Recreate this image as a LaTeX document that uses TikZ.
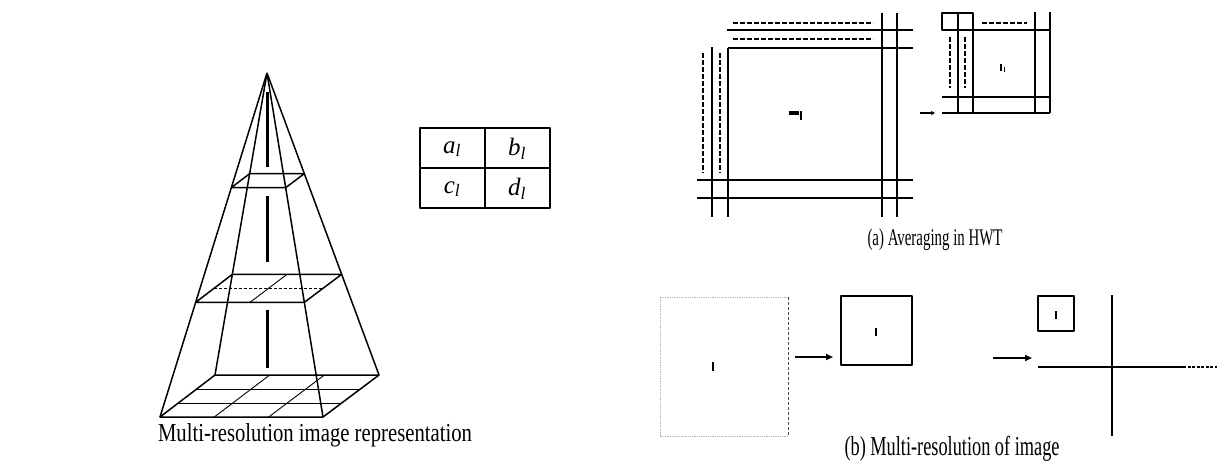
\documentclass[tikz,border=0pt]{standalone}
\usepackage{fontspec}
\setmainfont{Liberation Serif}
\usetikzlibrary{calc,arrows.meta}
\begin{document}
\begin{tikzpicture}[x=1pt,y=-1pt,line join=round,
  edge/.style={line width=1.5pt},
  gridln/.style={line width=0.9pt},
  axisln/.style={line width=3pt},
  imgln/.style={line width=1.5pt},
  dashln/.style={line width=1.4pt,dash pattern=on 5pt off 2pt},
  boxln/.style={line width=2.2pt},
  arr/.style={line width=2pt,-{Triangle[length=7pt,width=6pt]}},
  capnode/.style={inner sep=0pt,anchor=center},
  cell/.style={inner sep=0pt,font=\fontsize{25}{27}\selectfont\itshape}]
\useasboundingbox (0,0) rectangle (1220,475);
\fill[white] (0,0) rectangle (1220,475);

% ---------- pyramid ----------
\coordinate (A) at (267,73);
\coordinate (FL) at (160,417);
\coordinate (FR) at (323,417);
\coordinate (BR) at (379,375);
\coordinate (BL) at (215,375);
\foreach \n/\t in {1/0.3333,2/0.6667}{
  \coordinate (FL\n) at ($(A)!\t!(FL)$);
  \coordinate (FR\n) at ($(A)!\t!(FR)$);
  \coordinate (BR\n) at ($(A)!\t!(BR)$);
  \coordinate (BL\n) at ($(A)!\t!(BL)$);
}
% central axis
\draw[axisln] (267,92) -- (267,167);
\draw[axisln] (267,196) -- (267,262);
\draw[axisln] (267,310) -- (267,368);
% edges
\draw[edge] (A) -- (FL);
\draw[edge] (A) -- (FR);
\draw[edge] (A) -- (BR);
\draw[edge] (A) -- (BL);
% slices
\draw[edge] (FL1) -- (FR1) -- (BR1) -- (BL1) -- cycle;
\draw[edge] (FL2) -- (FR2) -- (BR2) -- (BL2) -- cycle;
\draw[edge] (FL) -- (FR) -- (BR) -- (BL) -- cycle;
% grids
\draw[gridln] ($(FL2)!0.5!(FR2)$) -- ($(BL2)!0.5!(BR2)$);
\draw[gridln,densely dashed] ($(FL2)!0.5!(BL2)$) -- ($(FR2)!0.5!(BR2)$);
\foreach \k in {0.3333,0.6667}{
  \draw[gridln] ($(FL)!\k!(FR)$) -- ($(BL)!\k!(BR)$);
  \draw[gridln] ($(FL)!\k!(BL)$) -- ($(FR)!\k!(BR)$);
}
\node[capnode] (pcap) at (315,435) {\scalebox{1}[1.25]{\resizebox{314pt}{!}{Multi-resolution image representation}}};

% ---------- 2x2 table ----------
\draw[edge] (420,128) rectangle (550,208);
\draw[edge] (485,128) -- (485,208);
\draw[edge] (420,168) -- (550,168);
\node[cell] (ca) at (452,149) {a\textsubscript{l}};
\node[cell] (cb) at (517,149) {b\textsubscript{l}};
\node[cell] (cc) at (452,189) {c\textsubscript{l}};
\node[cell] (cd) at (517,189) {d\textsubscript{l}};

% ---------- (a) big image ----------
\draw[imgln] (712,47) -- (712,217);
\draw[imgln] (728,48) -- (728,217);
\draw[imgln] (882,13) -- (882,217);
\draw[imgln] (897,13) -- (897,217);
\draw[imgln] (727,30) -- (913,30);
\draw[imgln] (728,48) -- (913,48);
\draw[imgln] (697,180) -- (913,180);
\draw[imgln] (697,198) -- (913,198);
\draw[dashln] (733,23) -- (873,23);
\draw[dashln] (733,39) -- (873,39);
\draw[dashln] (703,53) -- (703,173);
\draw[dashln] (720,53) -- (720,173);
\fill (789,111) rectangle (799,115);
\fill (800,111) rectangle (802,120);
\node (arrA0) at (920,113) {};
\node (arrA1) at (935,113) {};
\draw[line width=1.5pt,-{Triangle[length=4pt,width=4pt]}] (arrA0.center) -- (arrA1.center);
% small image
\draw[imgln] (942,13) rectangle (958,30);
\draw[imgln] (958,13) rectangle (973,30);
\draw[imgln] (958,30) -- (958,113);
\draw[imgln] (973,30) -- (973,113);
\draw[imgln] (1035,12) -- (1035,113);
\draw[imgln] (1050,12) -- (1050,113);
\draw[imgln] (942,30) -- (1050,30);
\draw[imgln] (942,97) -- (1050,97);
\draw[imgln] (942,113) -- (1050,113);
\draw[dashln] (950,37) -- (950,88);
\draw[dashln] (965,37) -- (965,88);
\draw[dashln] (982,23) -- (1027,23);
\fill (1000,64) rectangle (1002,71);
\fill (1004,67) rectangle (1005,72);
\node[capnode] (capa) at (935,240) {\scalebox{1}[1.6]{\resizebox{135pt}{!}{(a) Averaging in HWT}}};

% ---------- (b) ----------
\draw[gray!60,line width=0.8pt,densely dotted] (788,297) -- (660,297) -- (660,436) -- (788,436);
\draw[black!70,line width=1pt,densely dashed] (788,297) -- (788,436);
\fill (712,362) rectangle (714,371);
\draw[boxln] (841,296) rectangle (912,365);
\fill (875,328) rectangle (877,336);
\node (arrB0) at (795,357) {};
\node (arrB1) at (833,357) {};
\draw[arr] (arrB0.center) -- (arrB1.center);
\node (arrC0) at (993,358) {};
\node (arrC1) at (1032,358) {};
\draw[arr] (arrC0.center) -- (arrC1.center);
\draw[boxln] (1038,296) rectangle (1074,331);
\draw[line width=1.5pt] (1056,311) -- (1056,319);
\coordinate (vt) at (1112,295);
\coordinate (vb) at (1112,436);
\coordinate (hl) at (1038,367);
\coordinate (hr) at (1183,367);
\coordinate (he) at (1217,367);
\draw[imgln] (vt) -- (vb);
\draw[imgln] (hl) -- (hr);
\draw[line width=1.4pt,dash pattern=on 3pt off 1.5pt] (hr) -- (he);
\node[capnode] (capb) at (952,449) {\scalebox{1}[1.5]{\resizebox{215pt}{!}{(b) Multi-resolution of image}}};
\end{tikzpicture}
\end{document}
